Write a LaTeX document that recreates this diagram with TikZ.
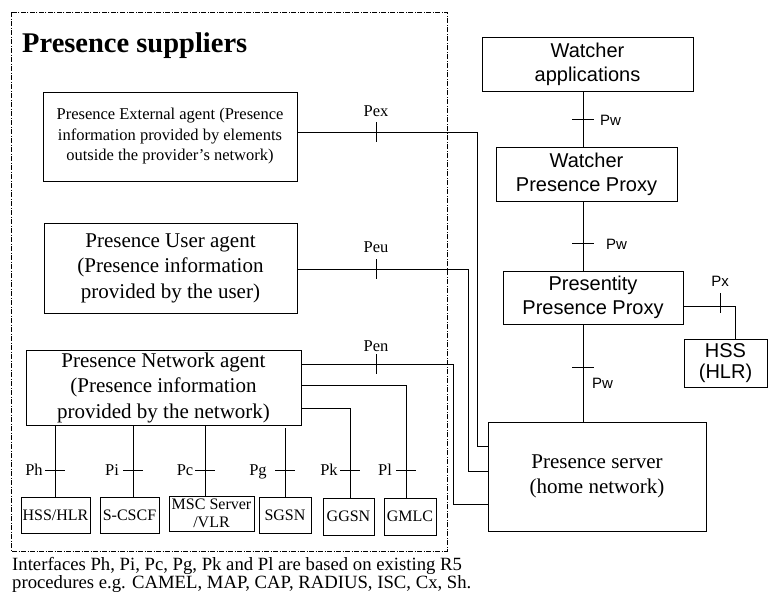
\documentclass[tikz,border=0pt]{standalone}
\usepackage{fontspec}
\setmainfont{Liberation Serif}
\newfontfamily\arialfont{Liberation Sans}
\usepackage{tikz}
\usetikzlibrary{calc}
\usetikzlibrary{positioning}

\tikzset{
  box/.style={draw, line width=0.8pt, align=center, inner sep=0pt},
  agentfont/.style={font=\fontsize{21}{25.5}\selectfont},
  smallbox/.style={box, minimum height=36, font=\fontsize{16}{18}\selectfont},
  wbox/.style={box, font=\arialfont\fontsize{20}{24}\selectfont},
  lbl/.style={inner sep=0pt, anchor=base, font=\fontsize{16.5}{18}\selectfont},
  wlbl/.style={inner sep=0pt, font=\arialfont\fontsize{15}{18}\selectfont},
  link/.style={line width=0.8pt},
  frame/.style={line width=0.9pt, dash pattern=on 5pt off 1.5pt on 1pt off 1.5pt},
}

\begin{document}
\begin{tikzpicture}[x=1pt, y=-1pt]
        \useasboundingbox (0,0) rectangle (768,592);

        % presence suppliers
        \draw[frame] (11,12) rectangle (447,551);
        \node[anchor=base west, inner sep=0pt, font=\bfseries\fontsize{28.5}{30}\selectfont] (title) at (22,52) {Presence suppliers};

        \node[box, minimum width=254, minimum height=89, font=\fontsize{16.5}{20.5}\selectfont] (ext) at (170,136.5)
             {Presence External agent (Presence\\information provided by elements\\outside the provider’s network)};
        \node[box, agentfont, minimum width=253, minimum height=90] (user) at (170.5,268)
             {Presence User agent\\(Presence information\\provided by the user)};
        \node[box, agentfont, minimum width=275, minimum height=75] (net) at (163.5,387.5)
             {Presence Network agent\\(Presence information\\provided by the network)};

        \node[smallbox, minimum width=69] (hsshlr) at (55.5,515) {HSS/HLR};
        \node[smallbox, minimum width=59] (scscf) at (129.5,515) {S-CSCF};
        \node[smallbox, minimum width=85, minimum height=35] (msc) at (211.5,513.5) {MSC Server\\/VLR};
        \node[smallbox, minimum width=52] (sgsn) at (285,515) {SGSN};
        \node[smallbox, minimum width=51, minimum height=37] (ggsn) at (348.5,516.5) {GGSN};
        \node[smallbox, minimum width=52, minimum height=37] (gmlc) at (410,516.5) {GMLC};

        % watcher side
        \node[wbox, minimum width=211, minimum height=54] (watchapp) at (587.5,64) {Watcher\\applications};
        \node[wbox, minimum width=181, minimum height=54] (wproxy) at (586.5,174) {Watcher\\Presence Proxy};
        \node[wbox, minimum width=180, minimum height=53] (pproxy) at (593,297.5) {Presentity\\Presence Proxy};
        \node[box, minimum width=83, minimum height=48, font=\arialfont\fontsize{20}{21}\selectfont] (hss) at (725.5,363) {HSS\\(HLR)};
        \node[box, agentfont, minimum width=218, minimum height=109, font=\fontsize{21}{25}\selectfont] (server) at (597,476.5)
             {Presence server\\(home network)};

        % suppliers to server
        \draw[link] (ext.east |- 0,132) -- (477,132) -- (477,446) -- (server.west |- 0,446);
        \draw[link] (user.east |- 0,269) -- (468,269) -- (468,471) -- (server.west |- 0,471);
        \draw[link] (net.east |- 0,364) -- (453,364) -- (453,504) -- (server.west |- 0,504);
        \draw[link] (376,122) -- (376,142);
        \draw[link] (376,259) -- (376,279);
        \draw[link] (376,354) -- (376,374);
        \node[lbl] (pex) at (376,116) {Pex};
        \node[lbl] (peu) at (376,252) {Peu};
        \node[lbl] (pen) at (376,351) {Pen};

        % network agent to elements
        \draw[link] (net.east |- 0,385) -- (406,385) -- (gmlc.north -| 406,0);
        \draw[link] (net.east |- 0,408) -- (350,408) -- (ggsn.north -| 350,0);
        \draw[link] (net.south -| 55,0) -- (hsshlr.north -| 55,0);
        \draw[link] (net.south -| 133,0) -- (scscf.north -| 133,0);
        \draw[link] (net.south -| 205,0) -- (msc.north -| 205,0);
        \draw[link] (285,428) -- (sgsn.north -| 285,0);
        \foreach \x in {55,133,205,285,350,406}
            \draw[link] (\x-10,470) -- (\x+10,470);
        \node[lbl] (ph) at (34,475) {Ph};
        \node[lbl] (pi) at (112,475) {Pi};
        \node[lbl] (pc) at (185,475) {Pc};
        \node[lbl] (pg) at (258,475) {Pg};
        \node[lbl] (pk) at (329,475) {Pk};
        \node[lbl] (pl) at (385,475) {Pl};

        % watcher chain
        \draw[link] (watchapp.south -| 583,0) -- (wproxy.north -| 583,0);
        \draw[link] (wproxy.south -| 583,0) -- (pproxy.north -| 583,0);
        \draw[link] (pproxy.south -| 583,0) -- (server.north -| 583,0);
        \draw[link] (572,119) -- (594,119);
        \draw[link] (572,243) -- (594,243);
        \draw[link] (572,367) -- (594,367);
        \node[wlbl, anchor=west] (pw1) at (600,120) {Pw};
        \node[wlbl, anchor=west] (pw2) at (606,244) {Pw};
        \node[wlbl, anchor=west] (pw3) at (592,383) {Pw};

        \draw[link] (pproxy.east |- 0,306) -- (735,306) -- (hss.north -| 735,0);
        \draw[link] (720,293) -- (720,313);
        \node[wlbl] (px) at (720,281) {Px};

        % note
        \node[anchor=base west, inner sep=0pt, font=\fontsize{18.7}{18}\selectfont] (note1) at (12,570)
             {Interfaces Ph, Pi, Pc, Pg, Pk and Pl are based on existing R5};
        \node[anchor=base west, inner sep=0pt, font=\fontsize{18.7}{18}\selectfont] (note2) at (12,588)
             {procedures e.g. CAMEL, MAP, CAP, RADIUS, ISC, Cx, Sh.};
\end{tikzpicture}
\end{document}
